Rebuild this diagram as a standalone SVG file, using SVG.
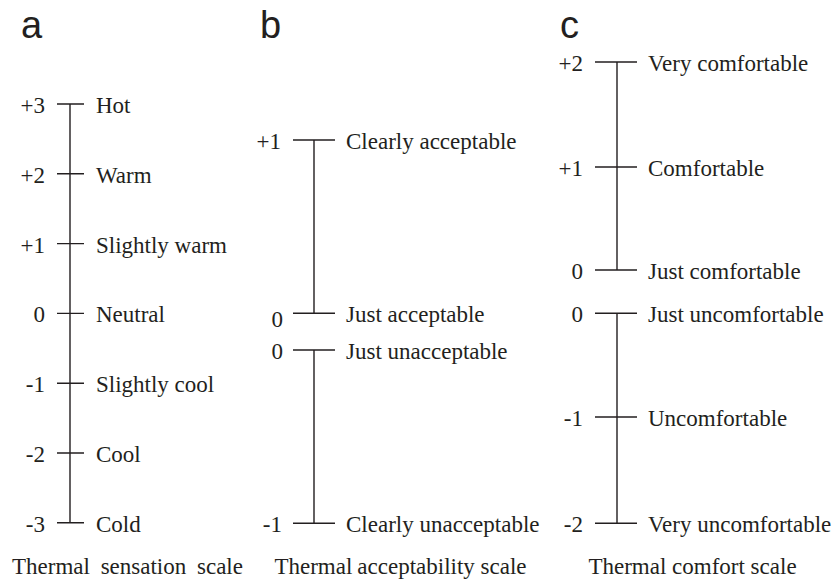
<svg xmlns="http://www.w3.org/2000/svg" width="833" height="579" viewBox="0 0 833 579">
<style>
.t{font-family:"Liberation Serif","Times New Roman",serif;font-size:23px;fill:#231f20}
.n{text-anchor:end}
.p{font-family:"Liberation Sans",Arial,sans-serif;font-size:38px;fill:#231f20}
.c{text-anchor:middle}
.ln{stroke:#231f20;stroke-width:1.4;fill:none}
</style>
<rect width="833" height="579" fill="#ffffff"/>
<g id="panel-labels">
<text class="p" x="21" y="38">a</text>
<text class="p" x="260" y="38">b</text>
<text class="p" x="560" y="38">c</text>
</g>
<g id="connectors">
<path class="ln" d="M70,104V522.8 M57,104H84 M57,173.8H84 M57,243.6H84 M57,313.4H84 M57,383.2H84 M57,453H84 M57,522.8H84"/>
<path class="ln" d="M314,140V313.3 M293,140H335 M293,313.3H335 M314,350V523.3 M293,350H335 M293,523.3H335"/>
<path class="ln" d="M617,62V270 M595,62H637 M595,167H637 M595,270H637 M617,313.3V523.3 M595,313.3H637 M595,417H637 M595,523.3H637"/>
</g>
<g id="a-hot"><text class="t n" x="45" y="113">+3</text><text class="t" x="96" y="113">Hot</text></g>
<g id="a-warm"><text class="t n" x="45" y="182.8">+2</text><text class="t" x="96" y="182.8">Warm</text></g>
<g id="a-slightly-warm"><text class="t n" x="45" y="252.6">+1</text><text class="t" x="96" y="252.6">Slightly warm</text></g>
<g id="a-neutral"><text class="t n" x="45" y="322.4">0</text><text class="t" x="96" y="322.4">Neutral</text></g>
<g id="a-slightly-cool"><text class="t n" x="45" y="392.2">-1</text><text class="t" x="96" y="392.2">Slightly cool</text></g>
<g id="a-cool"><text class="t n" x="45" y="462">-2</text><text class="t" x="96" y="462">Cool</text></g>
<g id="a-cold"><text class="t n" x="45" y="531.8">-3</text><text class="t" x="96" y="531.8">Cold</text></g>
<g id="b-clearly-acceptable"><text class="t n" x="281" y="148.5">+1</text><text class="t" x="346" y="148.5">Clearly acceptable</text></g>
<g id="b-just-acceptable"><text class="t n" x="283" y="327">0</text><text class="t" x="346" y="322">Just acceptable</text></g>
<g id="b-just-unacceptable"><text class="t n" x="283" y="358.5">0</text><text class="t" x="346" y="358.5">Just unacceptable</text></g>
<g id="b-clearly-unacceptable"><text class="t n" x="282" y="532">-1</text><text class="t" x="346" y="532">Clearly unacceptable</text></g>
<g id="c-very-comfortable"><text class="t n" x="583" y="70.5">+2</text><text class="t" x="648" y="70.5">Very comfortable</text></g>
<g id="c-comfortable"><text class="t n" x="583" y="175.5">+1</text><text class="t" x="648" y="175.5">Comfortable</text></g>
<g id="c-just-comfortable"><text class="t n" x="583" y="278.5">0</text><text class="t" x="648" y="278.5">Just comfortable</text></g>
<g id="c-just-uncomfortable"><text class="t n" x="583" y="322">0</text><text class="t" x="648" y="322">Just uncomfortable</text></g>
<g id="c-uncomfortable"><text class="t n" x="583" y="425.5">-1</text><text class="t" x="648" y="425.5">Uncomfortable</text></g>
<g id="c-very-uncomfortable"><text class="t n" x="583" y="532">-2</text><text class="t" x="648" y="532">Very uncomfortable</text></g>
<g id="captions">
<text class="t c" x="127.5" y="574" word-spacing="5">Thermal sensation scale</text>
<text class="t c" x="400.5" y="574">Thermal<tspan dx="5">acceptability scale</tspan></text>
<text class="t c" x="692.5" y="574">Thermal comfort scale</text>
</g>
</svg>
